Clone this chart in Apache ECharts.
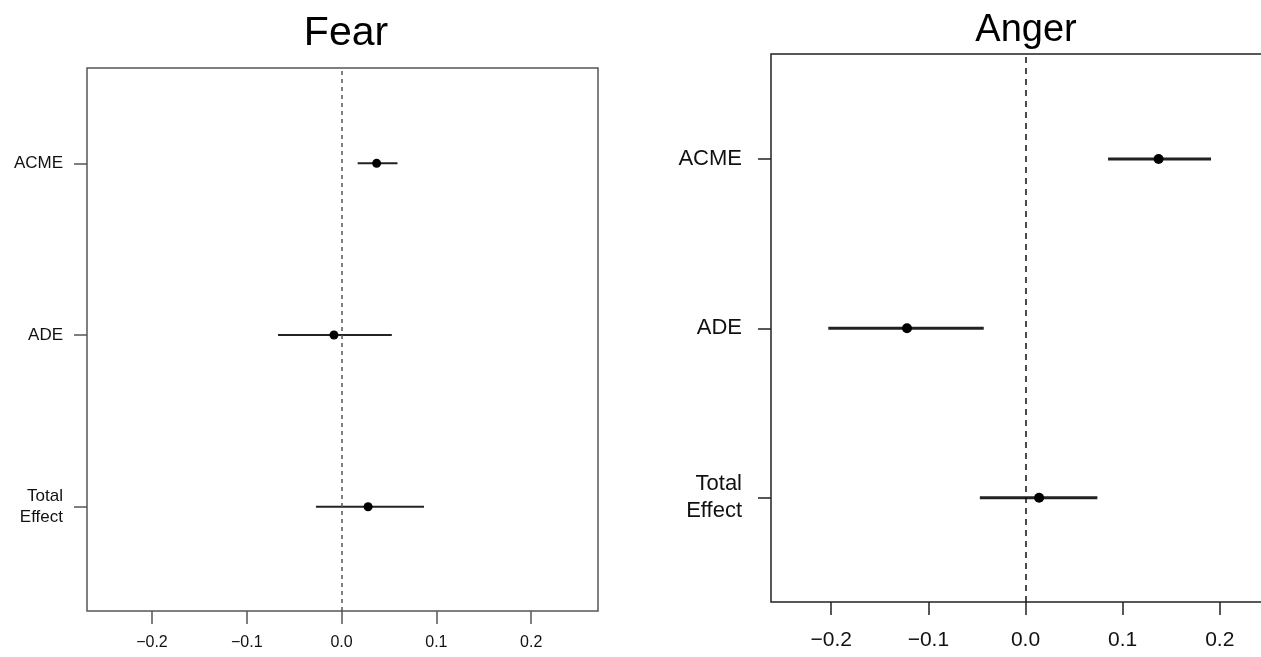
<!DOCTYPE html>
<html>
<head>
<meta charset="utf-8">
<title>Mediation effects: Fear and Anger</title>
<script src="https://cdn.jsdelivr.net/npm/echarts@6/dist/echarts.min.js"></script>
<style>
  html, body { margin: 0; padding: 0; background: #fff; overflow: hidden; }
  /* the Anger panel runs past the right edge of the window */
  #chart { width: 1300px; height: 657px; }
</style>
</head>
<body>
<div id="chart"></div>
<script>
// Row labels, listed bottom to top (row position 1, 2, 3 on the y scale)
const rowLabels = ['Total\nEffect', 'ADE', 'ACME'];
const rowPos = [1, 2, 3];

// Fear: point estimates with 95% interval bounds
const fearEst = [0.028, -0.008, 0.037];
const fearLo  = [-0.027, -0.067, 0.017];
const fearHi  = [0.087, 0.053, 0.059];

// Anger: point estimates with 95% interval bounds
const angerEst = [0.014, -0.122, 0.137];
const angerLo  = [-0.047, -0.203, 0.085];
const angerHi  = [0.074, -0.043, 0.191];

// Tick values along the effect axis
const xTicks = [-0.2, -0.1, 0.0, 0.1, 0.2];

const FONT = '"Liberation Sans", Arial, Helvetica, sans-serif';

function rows(lo, hi, est) {
  return rowPos.map((p, i) => [lo[i], hi[i], est[i], p]);
}

function intervalRenderer(lineWidth, radius, color) {
  return function (params, api) {
    const y = api.value(3);
    const a = api.coord([api.value(0), y]);
    const b = api.coord([api.value(1), y]);
    const c = api.coord([api.value(2), y]);
    return {
      type: 'group',
      children: [
        { type: 'line', shape: { x1: a[0], y1: a[1], x2: b[0], y2: b[1] },
          style: { stroke: color, lineWidth: lineWidth } },
        { type: 'circle', shape: { cx: c[0], cy: c[1], r: radius },
          style: { fill: '#000' } }
      ]
    };
  };
}

function fmtTick(v) {
  const s = Math.abs(v).toFixed(1);
  return v < -1e-9 ? '\u2212' + s : s;
}

function xAxisFor(idx, min, max, fontSize, margin, color) {
  return {
    gridIndex: idx, type: 'value', position: 'bottom',
    min: min, max: max,
    axisLine: { show: false, onZero: false },
    splitLine: { show: false },
    axisTick: { show: true, inside: false, length: 13, customValues: xTicks,
                lineStyle: { color: color, width: 1.5 } },
    axisLabel: { show: true, customValues: xTicks, formatter: fmtTick,
                 fontFamily: FONT, fontSize: fontSize, color: '#111', margin: margin }
  };
}

function yAxisFor(idx, min, max, fontSize, lineHeight, margin, color) {
  return {
    gridIndex: idx, type: 'value', position: 'left',
    min: min, max: max,
    axisLine: { show: false, onZero: false },
    splitLine: { show: false },
    axisTick: { show: true, inside: false, length: 13, customValues: rowPos,
                lineStyle: { color: color, width: 1.5 } },
    axisLabel: { show: true, customValues: rowPos,
                 formatter: v => rowLabels[Math.round(v) - 1],
                 fontFamily: FONT, fontSize: fontSize, lineHeight: lineHeight,
                 color: '#111', margin: margin, align: 'right' }
  };
}

const chart = echarts.init(document.getElementById('chart'), null, { renderer: 'canvas' });

chart.setOption({
  animation: false,
  backgroundColor: '#fff',
  title: [
    { text: 'Fear', left: 346, top: 13, padding: 0, textAlign: 'center',
      textStyle: { fontFamily: FONT, fontSize: 41, fontWeight: 'normal', color: '#000' } },
    { text: 'Anger', left: 1026, top: 12, padding: 0, textAlign: 'center',
      textStyle: { fontFamily: FONT, fontSize: 38, fontWeight: 'normal', color: '#000' } }
  ],
  grid: [
    { left: 87, top: 68, width: 511, height: 543, show: true,
      borderColor: '#555', borderWidth: 1.5, backgroundColor: 'transparent' },
    { left: 771, top: 54, width: 509, height: 548, show: true,
      borderColor: '#222', borderWidth: 1.5, backgroundColor: 'transparent' }
  ],
  xAxis: [
    xAxisFor(0, -0.2685, 0.2705, 16, 24, '#555'),
    xAxisFor(1, -0.262, 0.262, 21, 28, '#222')
  ],
  yAxis: [
    yAxisFor(0, 0.393, 3.555, 17, 21, 24, '#555'),
    yAxisFor(1, 0.384, 3.62, 22, 27, 29, '#222')
  ],
  series: [
    {
      type: 'custom', xAxisIndex: 0, yAxisIndex: 0,
      renderItem: intervalRenderer(2, 4.5, '#222'),
      encode: { x: [0, 1, 2], y: 3 },
      data: rows(fearLo, fearHi, fearEst),
      markLine: {
        silent: true, symbol: 'none', label: { show: false },
        lineStyle: { color: '#555', type: [4, 4], width: 1.5 },
        data: [{ xAxis: 0 }]
      },
      z: 3
    },
    {
      type: 'custom', xAxisIndex: 1, yAxisIndex: 1,
      renderItem: intervalRenderer(3, 5, '#222'),
      encode: { x: [0, 1, 2], y: 3 },
      data: rows(angerLo, angerHi, angerEst),
      markLine: {
        silent: true, symbol: 'none', label: { show: false },
        lineStyle: { color: '#111', type: [6, 5], width: 1.5 },
        data: [{ xAxis: 0 }]
      },
      z: 3
    }
  ]
});
</script>
</body>
</html>
